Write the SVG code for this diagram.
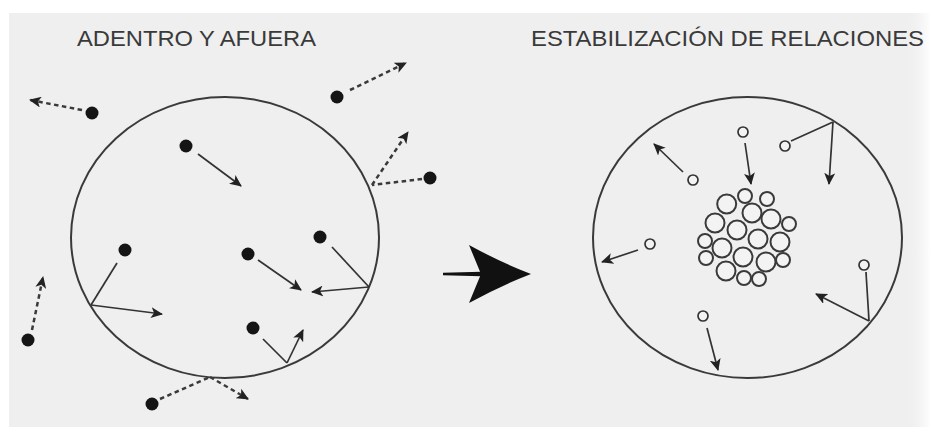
<svg xmlns="http://www.w3.org/2000/svg" width="931" height="429" viewBox="0 0 931 429">
<style>
.bg{fill:#efefef}
.title{font-family:"Liberation Sans",Arial,sans-serif;font-size:22px;fill:#3a3a3a}
.cell{fill:none;stroke:#3a3a3a;stroke-width:2}
.dot{fill:#151515}
.open{fill:#f3f3f3;stroke:#333;stroke-width:1.7}
.cl{fill:#f3f3f3;stroke:#3a3a3a;stroke-width:2}
.solid{fill:none;stroke:#333;stroke-width:1.7}
.dash{fill:none;stroke:#3a3a3a;stroke-width:2.5;stroke-dasharray:4.5 3.5}
.arr{marker-end:url(#ah)}
</style>
<defs>
<marker id="ah" markerUnits="userSpaceOnUse" markerWidth="13" markerHeight="11" refX="11" refY="5.5" orient="auto">
<path d="M0,0 L12,5.5 L0,11 L3,5.5 Z" fill="#222"/>
</marker>
<linearGradient id="edge" x1="0" y1="0" x2="1" y2="0">
<stop offset="0" stop-color="#efefef" stop-opacity="0"/>
<stop offset="1" stop-color="#ffffff"/>
</linearGradient>
</defs>
<rect width="931" height="429" fill="#ffffff"/>
<rect class="bg" x="9" y="13" width="922" height="414"/>
<rect x="905" y="13" width="26" height="414" fill="url(#edge)"/>

<g id="title-left"><text class="title" x="77" y="46" textLength="239" lengthAdjust="spacingAndGlyphs">ADENTRO Y AFUERA</text></g>
<g id="title-right"><text class="title" x="531" y="46" textLength="393" lengthAdjust="spacingAndGlyphs">ESTABILIZACIÓN DE RELACIONES</text></g>

<g id="cell-left"><ellipse class="cell" cx="225" cy="237.5" rx="154" ry="140.5"/></g>
<g id="cell-right"><ellipse class="cell" cx="747.5" cy="237.5" rx="154.5" ry="140.5"/></g>

<g id="big-arrow">
<path d="M443,272.8 L481,271.8 L481,276.2 L443,275.2 Z" fill="#111"/>
<path d="M469,245 Q500,262 531,274 Q500,286 469,303 L481,274 Z" fill="#111"/>
</g>

<g id="left-particles">
<circle class="dot" cx="92" cy="113" r="6.5"/>
<circle class="dot" cx="337" cy="97" r="6.5"/>
<circle class="dot" cx="186" cy="146" r="6.5"/>
<circle class="dot" cx="430" cy="178" r="6.5"/>
<circle class="dot" cx="125" cy="250" r="6.5"/>
<circle class="dot" cx="248" cy="254" r="6.5"/>
<circle class="dot" cx="320" cy="237" r="6.5"/>
<circle class="dot" cx="253" cy="328" r="6.5"/>
<circle class="dot" cx="28" cy="340" r="6.5"/>
<circle class="dot" cx="152" cy="404" r="6.5"/>
</g>

<g id="right-particles">
<circle class="open" cx="743" cy="132" r="5"/>
<circle class="open" cx="785" cy="146" r="5"/>
<circle class="open" cx="693" cy="180" r="5"/>
<circle class="open" cx="650" cy="244" r="5"/>
<circle class="open" cx="864" cy="265" r="5"/>
<circle class="open" cx="703" cy="316" r="5"/>
</g>

<g id="cluster">
<circle class="cl" cx="726.7" cy="204" r="9.5"/>
<circle class="cl" cx="745" cy="196" r="7"/>
<circle class="cl" cx="767" cy="199" r="7"/>
<circle class="cl" cx="752" cy="213" r="9.5"/>
<circle class="cl" cx="771" cy="219" r="9.5"/>
<circle class="cl" cx="715" cy="223" r="9.5"/>
<circle class="cl" cx="737" cy="230" r="9.5"/>
<circle class="cl" cx="789" cy="224" r="7"/>
<circle class="cl" cx="758" cy="239" r="9.5"/>
<circle class="cl" cx="705" cy="241" r="7"/>
<circle class="cl" cx="722" cy="248" r="9.5"/>
<circle class="cl" cx="780" cy="242" r="9.5"/>
<circle class="cl" cx="743" cy="257" r="9.5"/>
<circle class="cl" cx="766" cy="262" r="9.5"/>
<circle class="cl" cx="706" cy="258" r="7"/>
<circle class="cl" cx="783" cy="260" r="7"/>
<circle class="cl" cx="726" cy="271" r="9.5"/>
<circle class="cl" cx="744" cy="278" r="7"/>
<circle class="cl" cx="759" cy="279" r="7"/>
</g>

<g id="connectors">
<path class="dash arr" d="M82,110 L30,100"/>
<path class="dash arr" d="M350,90 L406,63"/>
<path class="dash" d="M422,179 L372,185"/>
<path class="dash arr" d="M372,185 L408,132"/>
<path class="dash arr" d="M32,330 L43,277"/>
<path class="dash" d="M160,399 L210,377"/>
<path class="dash arr" d="M210,377 L248,399"/>
<path class="solid arr" d="M198,154 L241,186"/>
<path class="solid" d="M117,263 L91,305"/>
<path class="solid arr" d="M91,305 L162,314"/>
<path class="solid arr" d="M258,260 L301,290"/>
<path class="solid" d="M332,247 L369,287"/>
<path class="solid arr" d="M369,287 L312,292"/>
<path class="solid" d="M263,339 L287,363"/>
<path class="solid arr" d="M287,363 L303,330"/>
<path class="solid arr" d="M745,143 L751,184"/>
<path class="solid" d="M791,141 L833,122"/>
<path class="solid arr" d="M833,122 L829,184"/>
<path class="solid arr" d="M683,172 L654,144"/>
<path class="solid arr" d="M638,250 L602,262"/>
<path class="solid" d="M866,272 L869,321"/>
<path class="solid arr" d="M869,321 L816,294"/>
<path class="solid arr" d="M707,328 L718,370"/>
</g>
</svg>
